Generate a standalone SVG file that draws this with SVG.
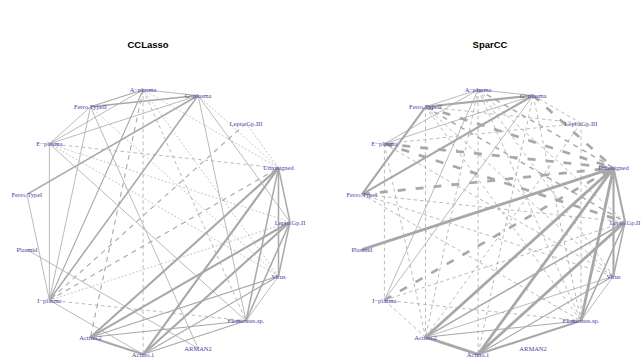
<svg xmlns="http://www.w3.org/2000/svg" width="641" height="358" viewBox="0 0 641 358">
<style>
.t{font-family:"Liberation Sans",Arial,sans-serif;font-weight:bold;font-size:9.5px;fill:#000;text-anchor:middle}
.n text{font-family:"Liberation Serif","Times New Roman",serif;font-size:6.5px;fill:#4F3CA6;text-anchor:middle;dominant-baseline:central}
line{stroke:#A8A8A8;fill:none}
.s1{stroke-width:0.8}
.s2{stroke-width:1.1}
.s3{stroke-width:1.5}
.s4{stroke-width:2.1}
.s5{stroke-width:2.8}
.d1{stroke-width:0.8;stroke-dasharray:3.5 3}
.db{stroke-width:1.1;stroke-dasharray:5 4.5}
.d2{stroke-width:1.5;stroke-dasharray:5 5}
.d3{stroke-width:2.7;stroke-dasharray:8 10}
.o{stroke-width:0.7;stroke-dasharray:1.8 2}
</style>
<rect width="641" height="358" fill="#fff"/>
<text class="t" x="148" y="48">CCLasso</text>
<text class="t" x="490" y="48">SparCC</text>
<g id="connectors-cclasso">
<line class="s1" x1="143.1" y1="89.7" x2="198.1" y2="95.5"/>
<line class="s2" x1="143.1" y1="89.7" x2="90.5" y2="106.8"/>
<line class="s3" x1="90.5" y1="106.8" x2="198.1" y2="95.5"/>
<line class="s1" x1="49.4" y1="143.8" x2="90.5" y2="106.8"/>
<line class="s1" x1="49.4" y1="143.8" x2="143.1" y2="89.7"/>
<line class="s1" x1="49.4" y1="143.8" x2="198.1" y2="95.5"/>
<line class="s3" x1="26.9" y1="194.3" x2="198.1" y2="95.5"/>
<line class="s1" x1="49.4" y1="143.8" x2="49.4" y2="300.2"/>
<line class="s1" x1="26.9" y1="194.3" x2="49.4" y2="300.2"/>
<line class="s1" x1="90.5" y1="106.8" x2="49.4" y2="300.2"/>
<line class="s2" x1="143.1" y1="89.7" x2="49.4" y2="300.2"/>
<line class="s3" x1="198.1" y1="95.5" x2="49.4" y2="300.2"/>
<line class="s1" x1="49.4" y1="300.2" x2="143.1" y2="354.3"/>
<line class="s1" x1="26.9" y1="249.7" x2="198.1" y2="348.5"/>
<line class="s1" x1="49.4" y1="143.8" x2="246.0" y2="320.8"/>
<line class="s1" x1="90.5" y1="106.8" x2="198.1" y2="348.5"/>
<line class="s4" x1="90.5" y1="337.2" x2="143.1" y2="354.3"/>
<line class="s4" x1="90.5" y1="337.2" x2="278.5" y2="167.9"/>
<line class="s4" x1="90.5" y1="337.2" x2="290.0" y2="222.0"/>
<line class="s2" x1="90.5" y1="337.2" x2="278.5" y2="276.1"/>
<line class="s2" x1="90.5" y1="337.2" x2="246.0" y2="320.8"/>
<line class="s4" x1="143.1" y1="354.3" x2="278.5" y2="167.9"/>
<line class="s4" x1="143.1" y1="354.3" x2="290.0" y2="222.0"/>
<line class="s2" x1="143.1" y1="354.3" x2="278.5" y2="276.1"/>
<line class="s2" x1="143.1" y1="354.3" x2="246.0" y2="320.8"/>
<line class="s3" x1="278.5" y1="167.9" x2="290.0" y2="222.0"/>
<line class="s3" x1="278.5" y1="167.9" x2="278.5" y2="276.1"/>
<line class="s3" x1="278.5" y1="167.9" x2="246.0" y2="320.8"/>
<line class="s3" x1="290.0" y1="222.0" x2="278.5" y2="276.1"/>
<line class="s3" x1="290.0" y1="222.0" x2="246.0" y2="320.8"/>
<line class="s1" x1="278.5" y1="276.1" x2="246.0" y2="320.8"/>
<line class="s1" x1="198.1" y1="95.5" x2="246.0" y2="320.8"/>
<line class="s1" x1="198.1" y1="95.5" x2="290.0" y2="222.0"/>
<line class="d1" x1="143.1" y1="89.7" x2="143.1" y2="354.3"/>
<line class="db" x1="143.1" y1="89.7" x2="90.5" y2="337.2"/>
<line class="d1" x1="143.1" y1="89.7" x2="246.0" y2="320.8"/>
<line class="d1" x1="49.4" y1="143.8" x2="278.5" y2="167.9"/>
<line class="db" x1="246.0" y1="123.2" x2="49.4" y2="300.2"/>
<line class="db" x1="49.4" y1="300.2" x2="278.5" y2="167.9"/>
<line class="d1" x1="49.4" y1="300.2" x2="246.0" y2="320.8"/>
<line class="o" x1="49.4" y1="143.8" x2="290.0" y2="222.0"/>
<line class="o" x1="246.0" y1="123.2" x2="278.5" y2="167.9"/>
<line class="o" x1="198.1" y1="95.5" x2="278.5" y2="167.9"/>
<line class="o" x1="143.1" y1="89.7" x2="278.5" y2="167.9"/>
<line class="o" x1="49.4" y1="300.2" x2="290.0" y2="222.0"/>
<line class="o" x1="49.4" y1="143.8" x2="278.5" y2="276.1"/>
<line class="o" x1="90.5" y1="106.8" x2="278.5" y2="276.1"/>
<line class="o" x1="143.1" y1="89.7" x2="278.5" y2="276.1"/>
</g>
<g id="connectors-sparcc">
<line class="s1" x1="478.1" y1="89.7" x2="533.1" y2="95.5"/>
<line class="s1" x1="478.1" y1="89.7" x2="425.5" y2="106.8"/>
<line class="s4" x1="425.5" y1="106.8" x2="533.1" y2="95.5"/>
<line class="s1" x1="384.4" y1="143.8" x2="478.1" y2="89.7"/>
<line class="s1" x1="384.4" y1="143.8" x2="533.1" y2="95.5"/>
<line class="s4" x1="361.9" y1="194.3" x2="425.5" y2="106.8"/>
<line class="s4" x1="361.9" y1="194.3" x2="533.1" y2="95.5"/>
<line class="s5" x1="361.9" y1="249.7" x2="613.5" y2="167.9"/>
<line class="s1" x1="384.4" y1="300.2" x2="478.1" y2="89.7"/>
<line class="s1" x1="384.4" y1="300.2" x2="533.1" y2="95.5"/>
<line class="s5" x1="425.5" y1="337.2" x2="478.1" y2="354.3"/>
<line class="s5" x1="425.5" y1="337.2" x2="613.5" y2="167.9"/>
<line class="s3" x1="425.5" y1="337.2" x2="625.0" y2="222.0"/>
<line class="s1" x1="425.5" y1="337.2" x2="613.5" y2="276.1"/>
<line class="s2" x1="425.5" y1="337.2" x2="581.0" y2="320.8"/>
<line class="s5" x1="478.1" y1="354.3" x2="613.5" y2="167.9"/>
<line class="s5" x1="478.1" y1="354.3" x2="625.0" y2="222.0"/>
<line class="s2" x1="478.1" y1="354.3" x2="613.5" y2="276.1"/>
<line class="s4" x1="478.1" y1="354.3" x2="581.0" y2="320.8"/>
<line class="s4" x1="613.5" y1="167.9" x2="625.0" y2="222.0"/>
<line class="s4" x1="613.5" y1="167.9" x2="613.5" y2="276.1"/>
<line class="s5" x1="613.5" y1="167.9" x2="581.0" y2="320.8"/>
<line class="s3" x1="625.0" y1="222.0" x2="613.5" y2="276.1"/>
<line class="s3" x1="625.0" y1="222.0" x2="581.0" y2="320.8"/>
<line class="s1" x1="613.5" y1="276.1" x2="581.0" y2="320.8"/>
<line class="d3" x1="425.5" y1="106.8" x2="613.5" y2="167.9"/>
<line class="d3" x1="384.4" y1="143.8" x2="613.5" y2="167.9"/>
<line class="d3" x1="361.9" y1="194.3" x2="613.5" y2="167.9"/>
<line class="d3" x1="384.4" y1="300.2" x2="613.5" y2="167.9"/>
<line class="d3" x1="533.1" y1="95.5" x2="613.5" y2="167.9"/>
<line class="d3" x1="384.4" y1="143.8" x2="625.0" y2="222.0"/>
<line class="d2" x1="425.5" y1="106.8" x2="625.0" y2="222.0"/>
<line class="d2" x1="478.1" y1="89.7" x2="613.5" y2="167.9"/>
<line class="d1" x1="478.1" y1="89.7" x2="478.1" y2="354.3"/>
<line class="d1" x1="478.1" y1="89.7" x2="581.0" y2="320.8"/>
<line class="d1" x1="478.1" y1="89.7" x2="613.5" y2="276.1"/>
<line class="d1" x1="478.1" y1="89.7" x2="625.0" y2="222.0"/>
<line class="d1" x1="533.1" y1="95.5" x2="581.0" y2="320.8"/>
<line class="d1" x1="533.1" y1="95.5" x2="478.1" y2="354.3"/>
<line class="d1" x1="533.1" y1="95.5" x2="581.0" y2="123.2"/>
<line class="d1" x1="384.4" y1="143.8" x2="581.0" y2="123.2"/>
<line class="d1" x1="384.4" y1="143.8" x2="384.4" y2="300.2"/>
<line class="d1" x1="384.4" y1="143.8" x2="425.5" y2="337.2"/>
<line class="d1" x1="384.4" y1="143.8" x2="613.5" y2="276.1"/>
<line class="d1" x1="425.5" y1="106.8" x2="425.5" y2="337.2"/>
<line class="d1" x1="425.5" y1="106.8" x2="613.5" y2="276.1"/>
<line class="d1" x1="425.5" y1="106.8" x2="581.0" y2="320.8"/>
<line class="d1" x1="425.5" y1="106.8" x2="581.0" y2="123.2"/>
<line class="d1" x1="361.9" y1="194.3" x2="625.0" y2="222.0"/>
<line class="d1" x1="361.9" y1="194.3" x2="581.0" y2="320.8"/>
<line class="d1" x1="361.9" y1="194.3" x2="613.5" y2="276.1"/>
<line class="d1" x1="384.4" y1="300.2" x2="581.0" y2="320.8"/>
<line class="d1" x1="384.4" y1="300.2" x2="625.0" y2="222.0"/>
<line class="d1" x1="384.4" y1="300.2" x2="425.5" y2="337.2"/>
<line class="d1" x1="581.0" y1="123.2" x2="425.5" y2="337.2"/>
<line class="d1" x1="581.0" y1="123.2" x2="581.0" y2="320.8"/>
<line class="d1" x1="478.1" y1="89.7" x2="425.5" y2="337.2"/>
</g>
<g id="node-cclasso-Lepto.Gp.II" class="n"><text x="290.0" y="222.0">Lepto.Gp.II</text></g>
<g id="node-cclasso-Virus" class="n"><text x="278.5" y="276.1">Virus</text></g>
<g id="node-cclasso-Firmicutes.sp." class="n"><text x="246.0" y="320.8">Firmicutes.sp.</text></g>
<g id="node-cclasso-ARMAN2" class="n"><text x="198.1" y="348.5">ARMAN2</text></g>
<g id="node-cclasso-Actino.1" class="n"><text x="143.1" y="354.3">Actino.1</text></g>
<g id="node-cclasso-Actino.2" class="n"><text x="90.5" y="337.2">Actino.2</text></g>
<g id="node-cclasso-I-plasma" class="n"><text x="49.4" y="300.2">I−plasma</text></g>
<g id="node-cclasso-Plasmid" class="n"><text x="26.9" y="249.7">Plasmid</text></g>
<g id="node-cclasso-Ferro.TypeI" class="n"><text x="26.9" y="194.3">Ferro.TypeI</text></g>
<g id="node-cclasso-E-plasma" class="n"><text x="49.4" y="143.8">E−plasma</text></g>
<g id="node-cclasso-Ferro.TypeII" class="n"><text x="90.5" y="106.8">Ferro.TypeII</text></g>
<g id="node-cclasso-A-plasma" class="n"><text x="143.1" y="89.7">A−plasma</text></g>
<g id="node-cclasso-G-plasma" class="n"><text x="198.1" y="95.5">G−plasma</text></g>
<g id="node-cclasso-Lepto.Gp.III" class="n"><text x="246.0" y="123.2">Lepto.Gp.III</text></g>
<g id="node-cclasso-Unassigned" class="n"><text x="278.5" y="167.9">Unassigned</text></g>
<g id="node-sparcc-Lepto.Gp.II" class="n"><text x="625.0" y="222.0">Lepto.Gp.II</text></g>
<g id="node-sparcc-Virus" class="n"><text x="613.5" y="276.1">Virus</text></g>
<g id="node-sparcc-Firmicutes.sp." class="n"><text x="581.0" y="320.8">Firmicutes.sp.</text></g>
<g id="node-sparcc-ARMAN2" class="n"><text x="533.1" y="348.5">ARMAN2</text></g>
<g id="node-sparcc-Actino.1" class="n"><text x="478.1" y="354.3">Actino.1</text></g>
<g id="node-sparcc-Actino.2" class="n"><text x="425.5" y="337.2">Actino.2</text></g>
<g id="node-sparcc-I-plasma" class="n"><text x="384.4" y="300.2">I−plasma</text></g>
<g id="node-sparcc-Plasmid" class="n"><text x="361.9" y="249.7">Plasmid</text></g>
<g id="node-sparcc-Ferro.TypeI" class="n"><text x="361.9" y="194.3">Ferro.TypeI</text></g>
<g id="node-sparcc-E-plasma" class="n"><text x="384.4" y="143.8">E−plasma</text></g>
<g id="node-sparcc-Ferro.TypeII" class="n"><text x="425.5" y="106.8">Ferro.TypeII</text></g>
<g id="node-sparcc-A-plasma" class="n"><text x="478.1" y="89.7">A−plasma</text></g>
<g id="node-sparcc-G-plasma" class="n"><text x="533.1" y="95.5">G−plasma</text></g>
<g id="node-sparcc-Lepto.Gp.III" class="n"><text x="581.0" y="123.2">Lepto.Gp.III</text></g>
<g id="node-sparcc-Unassigned" class="n"><text x="613.5" y="167.9">Unassigned</text></g>
</svg>
